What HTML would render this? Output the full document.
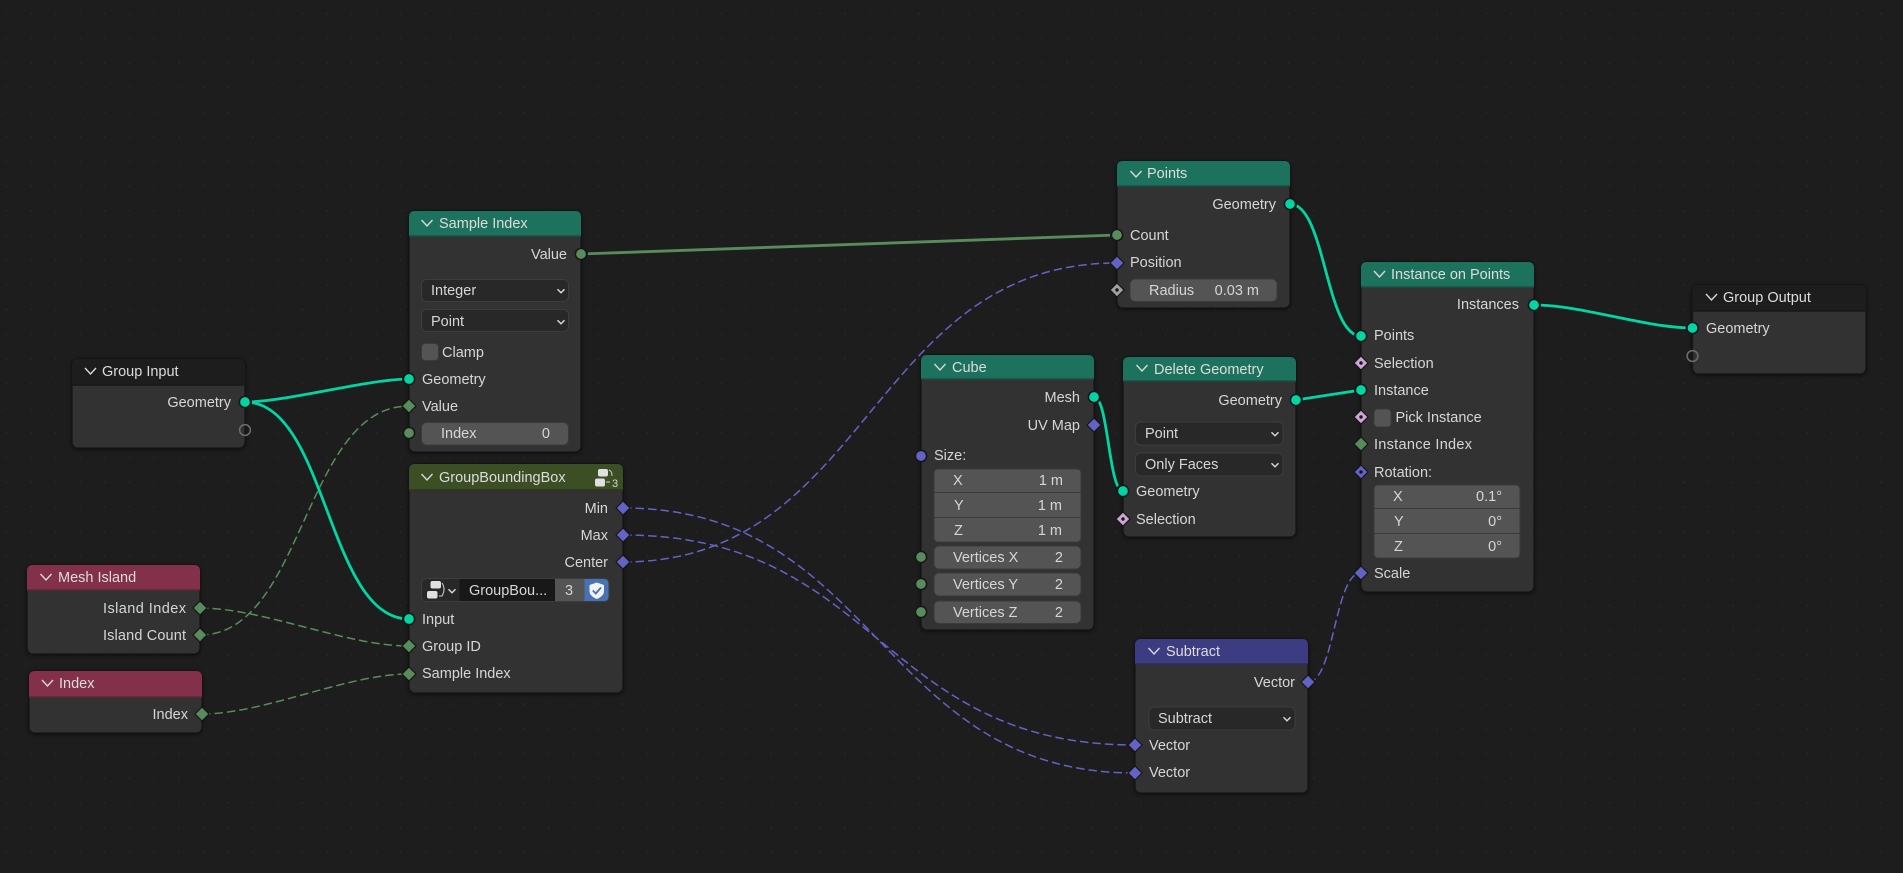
<!DOCTYPE html>
<html lang="en"><head><meta charset="utf-8"><title>Geometry Nodes</title>
<style>
html,body{margin:0;padding:0;background:#1d1d1d;width:1903px;height:873px;overflow:hidden}
svg{display:block}
text{font-family:"Liberation Sans",sans-serif;font-size:14.5px;fill:#d6d6d6}
.r{text-anchor:end}
.h{fill:#dcdcdc}
.body{fill:#303030;stroke:#141414;stroke-width:1.2;filter:url(#sh)}
.sep{stroke-width:1.5}
.box{fill:#545454;stroke:#3a3a3a;stroke-width:1}
.dd{fill:#282828;stroke:#3d3d3d;stroke-width:1}
.chev{fill:none;stroke:#d8d8d8;stroke-width:1.4}
.teal{fill:none;stroke:#00d6a3;stroke-width:2.8}
.gs{fill:none;stroke:#598c5c;stroke-width:2.8}
.gd{fill:none;stroke:#598c5c;stroke-width:1.5;stroke-dasharray:8.5 4}
.bd{fill:none;stroke:#6363c7;stroke-width:1.5;stroke-dasharray:8.5 4}
</style></head><body>
<svg width="1903" height="873" viewBox="0 0 1903 873" xmlns="http://www.w3.org/2000/svg">
<defs>
<filter id="sh" x="-15%" y="-15%" width="130%" height="130%"><feDropShadow dx="0" dy="1" stdDeviation="2.5" flood-color="#000" flood-opacity=".55"/></filter>
<pattern id="dots" x="5.5" y="12.8" width="24.67" height="24.67" patternUnits="userSpaceOnUse"><rect x="0" y="0" width="1.5" height="1.5" fill="#282828"/></pattern>
<g id="geo"><circle r="5.6" fill="#00d6a3" stroke="#161616" stroke-width="1.5"/></g>
<g id="int"><circle r="5.6" fill="#598c5c" stroke="#161616" stroke-width="1.5"/></g>
<g id="vecc"><circle r="5.6" fill="#6363c7" stroke="#161616" stroke-width="1.5"/></g>
<g id="empty"><circle r="5.4" fill="none" stroke="#6e6e6e" stroke-width="1.5"/></g>
<g id="intd"><path d="M0-7 7 0 0 7-7 0Z" fill="#598c5c" stroke="#161616" stroke-width="1.2"/></g>
<g id="vecd"><path d="M0-7 7 0 0 7-7 0Z" fill="#6363c7" stroke="#161616" stroke-width="1.2"/></g>
<g id="vecf"><path d="M0-7 7 0 0 7-7 0Z" fill="#6363c7" stroke="#161616" stroke-width="1.2"/><circle r="1.7" fill="#161616"/></g>
<g id="boolf"><path d="M0-7 7 0 0 7-7 0Z" fill="#cca6d6" stroke="#161616" stroke-width="1.2"/><circle r="1.7" fill="#161616"/></g>
<g id="fltf"><path d="M0-7 7 0 0 7-7 0Z" fill="#a1a1a1" stroke="#161616" stroke-width="1.2"/><circle r="1.7" fill="#161616"/></g>
<path id="hc" class="chev" d="M-5.5-3 0 3 5.5-3"/>
<path id="dc" class="chev" d="M-3.500-1.800 0 1.800 3.500-1.800" style="stroke-width:1.4"/>
<circle id="gap" r="7" fill="#1d1d1d"/>
</defs>

<rect width="1903" height="873" fill="#1d1d1d"/>
<rect width="1903" height="873" fill="url(#dots)"/>

<!-- links -->
<path class="teal" d="M245 402C286 402 368 379 409 379"/>
<path class="teal" d="M245 402C327 402 327 619 409 619"/>
<path class="gd" d="M200 635C304 635 304 406 409 406"/>
<path class="gd" d="M200 608C263 608 346 646 409 646"/>
<path class="gd" d="M202 714C264 714 347 674 409 674"/>
<path class="gs" d="M581 254L1117 235"/>
<path class="bd" d="M623 562C870 562 870 263 1117 263"/>
<path class="bd" d="M623 508C879 508 879 773 1135 773"/>
<path class="bd" d="M623 535C879 535 879 745 1135 745"/>
<path class="teal" d="M1094 397C1108.500 397 1108.500 491 1123 491"/>
<path class="teal" d="M1290 204C1325.500 204 1325.500 336 1361 336"/>
<path class="teal" d="M1296 400L1361 390"/>
<path class="teal" d="M1534 305C1582 305 1645 328 1692.500 328"/>
<path class="bd" d="M1308 682C1334.500 682 1334.500 573 1361 573"/>
<use href="#gap" x="245" y="402"/><use href="#gap" x="409" y="379"/><use href="#gap" x="409" y="619"/>
<use href="#gap" x="200" y="635"/><use href="#gap" x="409" y="406"/><use href="#gap" x="200" y="608"/><use href="#gap" x="409" y="646"/>
<use href="#gap" x="202" y="714"/><use href="#gap" x="409" y="674"/><use href="#gap" x="581" y="254"/><use href="#gap" x="1117" y="235"/>
<use href="#gap" x="623" y="562"/><use href="#gap" x="1117" y="263"/><use href="#gap" x="623" y="508"/><use href="#gap" x="1135" y="745"/>
<use href="#gap" x="623" y="535"/><use href="#gap" x="1135" y="773"/><use href="#gap" x="1094" y="397"/><use href="#gap" x="1123" y="491"/>
<use href="#gap" x="1290" y="204"/><use href="#gap" x="1361" y="336"/><use href="#gap" x="1296" y="400"/><use href="#gap" x="1361" y="390"/>
<use href="#gap" x="1534" y="305"/><use href="#gap" x="1692.500" y="328"/><use href="#gap" x="1308" y="682"/><use href="#gap" x="1361" y="573"/>

<!-- Group Input -->
<rect class="body" x="72" y="359" width="173" height="89" rx="6"/>
<path d="M72 385V365Q72 359 78 359H239Q245 359 245 365V385Z" fill="#1d1d1d"/>
<line class="sep" x1="72" x2="245" y1="385" y2="385" stroke="#181818"/>
<use href="#hc" x="90.500" y="371"/>
<text class="h" x="102" y="376">Group Input</text>
<text class="r" x="231" y="407">Geometry</text>
<use href="#geo" x="245" y="402"/><use href="#empty" x="245" y="430"/>

<!-- Sample Index -->
<rect class="body" x="409" y="211" width="172" height="241" rx="6"/>
<path d="M409 236V217Q409 211 415 211H575Q581 211 581 217V236Z" fill="#1d725e"/>
<line class="sep" x1="409" x2="581" y1="236" y2="236" stroke="#1b4f43"/>
<use href="#hc" x="427" y="223"/>
<text class="h" x="439" y="228">Sample Index</text>
<text class="r" x="567" y="259">Value</text>
<rect class="dd" x="421.500" y="279.500" width="147" height="22" rx="5"/>
<text x="431" y="295">Integer</text><use href="#dc" x="561" y="291"/>
<rect class="dd" x="421.500" y="309.500" width="147" height="22" rx="5"/>
<text x="431" y="326">Point</text><use href="#dc" x="561" y="322"/>
<rect x="421.500" y="343.500" width="17" height="17" rx="3.500" fill="#545454" stroke="#3a3a3a"/>
<text x="442" y="357">Clamp</text>
<text x="422" y="384">Geometry</text>
<text x="422" y="411">Value</text>
<rect class="box" x="421.500" y="422.500" width="147" height="22.500" rx="5"/>
<text x="441" y="438">Index</text><text class="r" x="550" y="438">0</text>
<use href="#int" x="581" y="254"/><use href="#geo" x="409" y="379"/><use href="#intd" x="409" y="406"/><use href="#int" x="409" y="433"/>

<!-- GroupBoundingBox -->
<rect class="body" x="409" y="464" width="214" height="229" rx="6"/>
<path d="M409 490V470Q409 464 415 464H617Q623 464 623 470V490Z" fill="#3c4f24"/>
<line class="sep" x1="409" x2="623" y1="490" y2="490" stroke="#2b3620"/>
<use href="#hc" x="427" y="477"/>
<text class="h" x="439" y="482">GroupBoundingBox</text>
<rect x="598" y="469" width="10" height="7.500" rx="2" fill="#e0e0e0"/>
<rect x="595" y="478.500" width="10" height="8" rx="2" fill="#e0e0e0"/>
<path d="M609 470Q612 471 612 476M606 482H610" fill="none" stroke="#d0d0d0" stroke-width="1"/>
<text x="612" y="487" style="font-size:11px">3</text>
<text class="r" x="608" y="513">Min</text>
<text class="r" x="608" y="540">Max</text>
<text class="r" x="608" y="567">Center</text>
<rect x="421.500" y="578.500" width="187.500" height="23" rx="5" fill="#282828" stroke="#3d3d3d"/>
<path d="M459.500 579H555V601H459.500Z" fill="#181818"/>
<rect x="555" y="579" width="29.500" height="22" fill="#545454"/>
<path d="M584.500 579H604Q608.500 579 608.500 583.500V596.500Q608.500 601 604 601H584.500Z" fill="#4772b3"/>
<rect x="430.500" y="581" width="10.500" height="7.500" rx="2" fill="#e0e0e0"/>
<rect x="427" y="591" width="10.500" height="7.500" rx="2" fill="#e0e0e0"/>
<path d="M442 583Q446 589 442 596H439" fill="none" stroke="#d0d0d0" stroke-width="1"/>
<use href="#dc" x="452" y="591"/>
<text x="469" y="595">GroupBou...</text>
<text x="565" y="595">3</text>
<path d="M596.800 582.500 604 585V591Q604 596 596.800 599Q589.500 596 589.500 591V585Z" fill="#f2f2f2"/>
<path d="M592.800 590.500 595.800 593.500 601 587.500" fill="none" stroke="#4772b3" stroke-width="1.800"/>
<text x="422" y="624">Input</text>
<text x="422" y="651">Group ID</text>
<text x="422" y="678">Sample Index</text>
<use href="#vecd" x="623" y="508"/><use href="#vecd" x="623" y="535"/><use href="#vecd" x="623" y="562"/>
<use href="#geo" x="409" y="619"/><use href="#intd" x="409" y="646"/><use href="#intd" x="409" y="674"/>

<!-- Mesh Island -->
<rect class="body" x="27" y="565" width="173" height="89" rx="6"/>
<path d="M27 590V571Q27 565 33 565H194Q200 565 200 571V590Z" fill="#83314a"/>
<line class="sep" x1="27" x2="200" y1="590" y2="590" stroke="#5a2736"/>
<use href="#hc" x="46" y="577"/>
<text class="h" x="58" y="582">Mesh Island</text>
<text class="r" x="186" y="613" textLength="83">Island Index</text>
<text class="r" x="186" y="640" textLength="83">Island Count</text>
<use href="#intd" x="200" y="608"/><use href="#intd" x="200" y="635"/>

<!-- Index -->
<rect class="body" x="29" y="671" width="173" height="62" rx="6"/>
<path d="M29 697V677Q29 671 35 671H196Q202 671 202 677V697Z" fill="#83314a"/>
<line class="sep" x1="29" x2="202" y1="697" y2="697" stroke="#5a2736"/>
<use href="#hc" x="47.500" y="683"/>
<text class="h" x="59" y="688">Index</text>
<text class="r" x="188" y="719">Index</text>
<use href="#intd" x="202" y="714"/>

<!-- Points -->
<rect class="body" x="1117" y="161" width="173" height="147" rx="6"/>
<path d="M1117 186V167Q1117 161 1123 161H1284Q1290 161 1290 167V186Z" fill="#1d725e"/>
<line class="sep" x1="1117" x2="1290" y1="186" y2="186" stroke="#1b4f43"/>
<use href="#hc" x="1136" y="174"/>
<text class="h" x="1147" y="178">Points</text>
<text class="r" x="1276" y="209">Geometry</text>
<text x="1130" y="240">Count</text>
<text x="1130" y="267">Position</text>
<rect class="box" x="1130" y="279" width="147" height="22.500" rx="5"/>
<text x="1149" y="295">Radius</text><text class="r" x="1259" y="295">0.03 m</text>
<use href="#geo" x="1290" y="204"/><use href="#int" x="1117" y="235"/><use href="#vecd" x="1117" y="263"/><use href="#fltf" x="1117" y="290"/>

<!-- Cube -->
<rect class="body" x="921" y="355" width="173" height="275" rx="6"/>
<path d="M921 379V361Q921 355 927 355H1088Q1094 355 1094 361V379Z" fill="#1d725e"/>
<line class="sep" x1="921" x2="1094" y1="379" y2="379" stroke="#1b4f43"/>
<use href="#hc" x="940" y="367"/>
<text class="h" x="952" y="372">Cube</text>
<text class="r" x="1080" y="402">Mesh</text>
<text class="r" x="1080" y="430">UV Map</text>
<text x="934" y="460">Size:</text>
<path d="M934 473.500Q934 469 938.500 469H1076.500Q1081 469 1081 473.500V537.500Q1081 542 1076.500 542H938.500Q934 542 934 537.500Z" class="box"/>
<line x1="934" x2="1081" y1="492.500" y2="492.500" stroke="#3a3a3a"/>
<line x1="934" x2="1081" y1="517.500" y2="517.500" stroke="#3a3a3a"/>
<text x="953" y="485">X</text><text class="r" x="1063" y="485">1 m</text>
<text x="954" y="510">Y</text><text class="r" x="1062" y="510">1 m</text>
<text x="954" y="535">Z</text><text class="r" x="1062" y="535">1 m</text>
<rect class="box" x="934" y="546" width="147" height="23" rx="5"/>
<text x="953" y="562">Vertices X</text><text class="r" x="1063" y="562">2</text>
<rect class="box" x="934" y="573" width="147" height="23" rx="5"/>
<text x="953" y="589">Vertices Y</text><text class="r" x="1063" y="589">2</text>
<rect class="box" x="934" y="601" width="147" height="22.500" rx="5"/>
<text x="953" y="617">Vertices Z</text><text class="r" x="1063" y="617">2</text>
<use href="#geo" x="1094" y="397"/><use href="#vecd" x="1094" y="425"/><use href="#vecc" x="921" y="456"/>
<use href="#int" x="921" y="557"/><use href="#int" x="921" y="584"/><use href="#int" x="921" y="612"/>

<!-- Delete Geometry -->
<rect class="body" x="1123" y="357" width="173" height="180" rx="6"/>
<path d="M1123 381V363Q1123 357 1129 357H1290Q1296 357 1296 363V381Z" fill="#1d725e"/>
<line class="sep" x1="1123" x2="1296" y1="381" y2="381" stroke="#1b4f43"/>
<use href="#hc" x="1142" y="368"/>
<text class="h" x="1154" y="374">Delete Geometry</text>
<text class="r" x="1282" y="405">Geometry</text>
<rect class="dd" x="1135.500" y="422" width="147.500" height="23" rx="5"/>
<text x="1145" y="438">Point</text><use href="#dc" x="1275" y="434"/>
<rect class="dd" x="1135.500" y="453" width="147.500" height="23" rx="5"/>
<text x="1145" y="469">Only Faces</text><use href="#dc" x="1275" y="465"/>
<text x="1136" y="496">Geometry</text>
<text x="1136" y="524">Selection</text>
<use href="#geo" x="1296" y="400"/><use href="#geo" x="1123" y="491"/><use href="#boolf" x="1123" y="519"/>

<!-- Subtract -->
<rect class="body" x="1135" y="639" width="173" height="154" rx="6"/>
<path d="M1135 664V645Q1135 639 1141 639H1302Q1308 639 1308 645V664Z" fill="#3c3c83"/>
<line class="sep" x1="1135" x2="1308" y1="664" y2="664" stroke="#2c2c5a"/>
<use href="#hc" x="1154" y="651"/>
<text class="h" x="1166" y="656">Subtract</text>
<text class="r" x="1295" y="687">Vector</text>
<rect class="dd" x="1149" y="707" width="146" height="23" rx="5"/>
<text x="1158" y="723">Subtract</text><use href="#dc" x="1287" y="719"/>
<text x="1149" y="750">Vector</text>
<text x="1149" y="777">Vector</text>
<use href="#vecd" x="1308" y="682"/><use href="#vecd" x="1135" y="745"/><use href="#vecd" x="1135" y="773"/>

<!-- Instance on Points -->
<rect class="body" x="1361" y="262" width="173" height="330" rx="6"/>
<path d="M1361 287V268Q1361 262 1367 262H1528Q1534 262 1534 268V287Z" fill="#1d725e"/>
<line class="sep" x1="1361" x2="1534" y1="287" y2="287" stroke="#1b4f43"/>
<use href="#hc" x="1379.500" y="274"/>
<text class="h" x="1391" y="279">Instance on Points</text>
<text class="r" x="1519" y="309">Instances</text>
<text x="1374" y="340">Points</text>
<text x="1374" y="368">Selection</text>
<text x="1374" y="395">Instance</text>
<rect x="1374" y="409" width="17" height="18" rx="3.500" fill="#545454" stroke="#3a3a3a"/>
<text x="1395.500" y="422">Pick Instance</text>
<text x="1374" y="449" textLength="98">Instance Index</text>
<text x="1374" y="477">Rotation:</text>
<path d="M1374 489.500Q1374 485 1378.500 485H1515.500Q1520 485 1520 489.500V553.500Q1520 558 1515.500 558H1378.500Q1374 558 1374 553.500Z" class="box"/>
<line x1="1374" x2="1520" y1="508.500" y2="508.500" stroke="#3a3a3a"/>
<line x1="1374" x2="1520" y1="533.500" y2="533.500" stroke="#3a3a3a"/>
<text x="1393" y="501">X</text><text class="r" x="1502" y="501">0.1°</text>
<text x="1394" y="526">Y</text><text class="r" x="1502" y="526">0°</text>
<text x="1394" y="551">Z</text><text class="r" x="1502" y="551">0°</text>
<text x="1374" y="578">Scale</text>
<use href="#geo" x="1534" y="305"/><use href="#geo" x="1361" y="336"/><use href="#boolf" x="1361" y="363"/><use href="#geo" x="1361" y="390"/>
<use href="#boolf" x="1361" y="417"/><use href="#intd" x="1361" y="444"/><use href="#vecf" x="1361" y="472"/><use href="#vecd" x="1361" y="573"/>

<!-- Group Output -->
<rect class="body" x="1692.500" y="285" width="173.500" height="89" rx="6"/>
<path d="M1692.500 311V291Q1692.500 285 1698.500 285H1860Q1866 285 1866 291V311Z" fill="#1d1d1d"/>
<line class="sep" x1="1692.500" x2="1866" y1="311" y2="311" stroke="#181818"/>
<use href="#hc" x="1711.500" y="297"/>
<text class="h" x="1723" y="302">Group Output</text>
<text x="1706" y="333">Geometry</text>
<use href="#geo" x="1692.500" y="328"/><use href="#empty" x="1692.500" y="356"/>
</svg>
</body></html>
